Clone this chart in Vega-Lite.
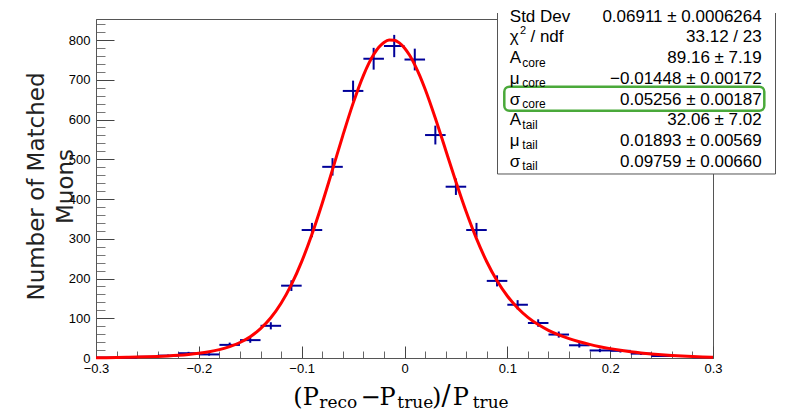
{
  "$schema": "https://vega.github.io/schema/vega-lite/v6.json",
  "width": 617,
  "height": 339,
  "autosize": {"type": "none"},
  "padding": {"left": 96, "top": 19, "right": 74, "bottom": 59},
  "background": "white",
  "config": {
    "view": {"stroke": "#555", "strokeWidth": 1},
    "axis": {"labelFont": "Liberation Sans", "labelFontSize": 13, "labelColor": "black", "grid": false, "domainColor": "#555", "labelFlush": false, "labelOverlap": false}
  },
  "datasets": {
    "bins": [
      {"c": -0.29, "lo": -0.30, "hi": -0.28, "n": 1, "err": 1.0},
      {"c": -0.27, "lo": -0.28, "hi": -0.26, "n": 1, "err": 1.0},
      {"c": -0.25, "lo": -0.26, "hi": -0.24, "n": 3, "err": 1.73},
      {"c": -0.23, "lo": -0.24, "hi": -0.22, "n": 6, "err": 2.45},
      {"c": -0.21, "lo": -0.22, "hi": -0.20, "n": 12, "err": 3.46},
      {"c": -0.19, "lo": -0.20, "hi": -0.18, "n": 9, "err": 3.0},
      {"c": -0.17, "lo": -0.18, "hi": -0.16, "n": 33, "err": 5.74},
      {"c": -0.15, "lo": -0.16, "hi": -0.14, "n": 45, "err": 6.71},
      {"c": -0.13, "lo": -0.14, "hi": -0.12, "n": 81, "err": 9.0},
      {"c": -0.11, "lo": -0.12, "hi": -0.10, "n": 182, "err": 13.49},
      {"c": -0.09, "lo": -0.10, "hi": -0.08, "n": 322, "err": 17.94},
      {"c": -0.07, "lo": -0.08, "hi": -0.06, "n": 481, "err": 21.93},
      {"c": -0.05, "lo": -0.06, "hi": -0.04, "n": 672, "err": 25.92},
      {"c": -0.03, "lo": -0.04, "hi": -0.02, "n": 753, "err": 27.44},
      {"c": -0.01, "lo": -0.02, "hi": 0.0, "n": 785, "err": 28.02},
      {"c": 0.01, "lo": 0.0, "hi": 0.02, "n": 751, "err": 27.4},
      {"c": 0.03, "lo": 0.02, "hi": 0.04, "n": 561, "err": 23.69},
      {"c": 0.05, "lo": 0.04, "hi": 0.06, "n": 431, "err": 20.76},
      {"c": 0.07, "lo": 0.06, "hi": 0.08, "n": 322, "err": 17.94},
      {"c": 0.09, "lo": 0.08, "hi": 0.10, "n": 194, "err": 13.93},
      {"c": 0.11, "lo": 0.10, "hi": 0.12, "n": 134, "err": 11.58},
      {"c": 0.13, "lo": 0.12, "hi": 0.14, "n": 88, "err": 9.38},
      {"c": 0.15, "lo": 0.14, "hi": 0.16, "n": 59, "err": 7.68},
      {"c": 0.17, "lo": 0.16, "hi": 0.18, "n": 32, "err": 5.66},
      {"c": 0.19, "lo": 0.18, "hi": 0.20, "n": 19, "err": 4.36},
      {"c": 0.21, "lo": 0.20, "hi": 0.22, "n": 18, "err": 4.24},
      {"c": 0.23, "lo": 0.22, "hi": 0.24, "n": 11, "err": 3.32},
      {"c": 0.25, "lo": 0.24, "hi": 0.26, "n": 5, "err": 2.24},
      {"c": 0.27, "lo": 0.26, "hi": 0.28, "n": 5, "err": 2.24},
      {"c": 0.29, "lo": 0.28, "hi": 0.30, "n": 2, "err": 1.41}
    ],
    "fit": [
      {"x": -0.30, "f": 0.63}, {"x": -0.29, "f": 0.87}, {"x": -0.28, "f": 1.20}, {"x": -0.27, "f": 1.64},
      {"x": -0.26, "f": 2.22}, {"x": -0.25, "f": 2.97}, {"x": -0.24, "f": 3.95}, {"x": -0.23, "f": 5.22},
      {"x": -0.22, "f": 6.87}, {"x": -0.21, "f": 9.04}, {"x": -0.20, "f": 11.92}, {"x": -0.19, "f": 15.81},
      {"x": -0.18, "f": 21.16}, {"x": -0.17, "f": 28.62}, {"x": -0.16, "f": 39.06}, {"x": -0.15, "f": 53.67},
      {"x": -0.14, "f": 73.89}, {"x": -0.13, "f": 101.35}, {"x": -0.12, "f": 137.78}, {"x": -0.11, "f": 184.55},
      {"x": -0.10, "f": 242.48}, {"x": -0.09, "f": 311.37}, {"x": -0.08, "f": 389.56}, {"x": -0.07, "f": 473.91},
      {"x": -0.06, "f": 559.62}, {"x": -0.05, "f": 640.72}, {"x": -0.04, "f": 710.72}, {"x": -0.03, "f": 763.46},
      {"x": -0.025, "f": 781.76}, {"x": -0.02, "f": 794.07}, {"x": -0.015, "f": 800.1}, {"x": -0.01, "f": 799.72},
      {"x": -0.005, "f": 793.0}, {"x": 0.0, "f": 780.17}, {"x": 0.005, "f": 761.56}, {"x": 0.01, "f": 737.70},
      {"x": 0.015, "f": 709.21}, {"x": 0.02, "f": 676.78}, {"x": 0.03, "f": 603.29}, {"x": 0.04, "f": 523.51},
      {"x": 0.05, "f": 443.45}, {"x": 0.06, "f": 367.92}, {"x": 0.07, "f": 300.26}, {"x": 0.08, "f": 242.25},
      {"x": 0.09, "f": 194.36}, {"x": 0.10, "f": 155.96}, {"x": 0.11, "f": 125.76}, {"x": 0.12, "f": 102.30},
      {"x": 0.13, "f": 84.06}, {"x": 0.14, "f": 69.72}, {"x": 0.15, "f": 58.24}, {"x": 0.16, "f": 48.84},
      {"x": 0.17, "f": 40.98}, {"x": 0.18, "f": 34.29}, {"x": 0.19, "f": 28.54}, {"x": 0.20, "f": 23.60},
      {"x": 0.21, "f": 19.35}, {"x": 0.22, "f": 15.72}, {"x": 0.23, "f": 12.65}, {"x": 0.24, "f": 10.08},
      {"x": 0.25, "f": 7.95}, {"x": 0.26, "f": 6.20}, {"x": 0.27, "f": 4.79}, {"x": 0.28, "f": 3.66},
      {"x": 0.29, "f": 2.77}, {"x": 0.30, "f": 2.07}
    ],
    "stats": [
      {"row": 1, "label": "Std Dev", "value": "0.06911 ± 0.0006264"},
      {"row": 2, "label": "χ", "sup": "2", "rest": "/ ndf", "value": "33.12 / 23"},
      {"row": 3, "label": "A", "sub": "core", "value": "89.16 ± 7.19"},
      {"row": 4, "label": "μ", "sub": "core", "value": "−0.01448 ± 0.00172"},
      {"row": 5, "label": "σ", "sub": "core", "value": "0.05256 ± 0.00187"},
      {"row": 6, "label": "A", "sub": "tail", "value": "32.06 ± 7.02"},
      {"row": 7, "label": "μ", "sub": "tail", "value": "0.01893 ± 0.00569"},
      {"row": 8, "label": "σ", "sub": "tail", "value": "0.09759 ± 0.00660"}
    ],
    "one": [{}]
  },
  "layer": [
    {
      "layer": [
        {
          "data": {"name": "bins"},
          "mark": {"type": "errorbar", "ticks": false, "color": "#000099", "thickness": 2},
          "encoding": {
            "x": {"field": "c", "type": "quantitative", "scale": {"domain": [-0.3, 0.3], "nice": false, "zero": false}, "axis": null},
            "y": {"field": "n", "type": "quantitative", "scale": {"domain": [0, 853], "nice": false}, "axis": null},
            "yError": {"field": "err"}
          }
        },
        {
          "data": {"name": "bins"},
          "mark": {"type": "rule", "color": "#000099", "strokeWidth": 2},
          "encoding": {
            "x": {"field": "lo", "type": "quantitative", "scale": {"domain": [-0.3, 0.3], "nice": false, "zero": false},
                  "axis": {"orient": "bottom", "values": [-0.3,-0.28,-0.26,-0.24,-0.22,-0.2,-0.18,-0.16,-0.14,-0.12,-0.1,-0.08,-0.06,-0.04,-0.02,0,0.02,0.04,0.06,0.08,0.1,0.12,0.14,0.16,0.18,0.2,0.22,0.24,0.26,0.28,0.3], "tickSize": -7, "tickColor": "#666", "labels": false, "domain": false, "title": null}},
            "x2": {"field": "hi"},
            "y": {"field": "n", "type": "quantitative", "scale": {"domain": [0, 853], "nice": false},
                  "axis": {"orient": "left", "values": [0,20,40,60,80,100,120,140,160,180,200,220,240,260,280,300,320,340,360,380,400,420,440,460,480,500,520,540,560,580,600,620,640,660,680,700,720,740,760,780,800,820,840], "tickSize": -9, "tickColor": "#777", "labels": false, "domain": false, "title": null}}
          }
        },
        {
          "data": {"name": "fit"},
          "mark": {"type": "line", "color": "#ff0000", "strokeWidth": 3, "interpolate": "monotone"},
          "encoding": {
            "x": {"field": "x", "type": "quantitative", "scale": {"domain": [-0.3, 0.3], "nice": false, "zero": false},
                  "axis": {"orient": "bottom", "values": [-0.3,-0.2,-0.1,0,0.1,0.2,0.3], "format": "~g", "tickSize": -12, "tickColor": "#444", "labelPadding": 16, "title": null}},
            "y": {"field": "f", "type": "quantitative", "scale": {"domain": [0, 853], "nice": false},
                  "axis": {"orient": "left", "values": [0,100,200,300,400,500,600,700,800], "format": "d", "tickSize": -18, "tickColor": "#444", "labelPadding": 24,
                           "title": ["Number of Matched", "Muons"], "titleFont": "DejaVu Sans", "titleFontSize": 23, "titleFontWeight": "normal", "titleColor": "#222",
                           "titleX": -53, "titleY": 167, "titleAngle": -90, "titleAlign": "center", "titleBaseline": "alphabetic", "titleLineHeight": 29}}
          }
        },
        {"data": {"name": "one"}, "mark": {"type": "text", "font": "DejaVu Serif", "fontSize": 24, "align": "left", "baseline": "alphabetic", "color": "black"},
         "encoding": {"x": {"datum": -0.10814, "type": "quantitative", "axis": null}, "y": {"datum": -118.3, "type": "quantitative", "axis": null}, "text": {"value": "(P"}}},
        {"data": {"name": "one"}, "mark": {"type": "text", "font": "DejaVu Serif", "fontSize": 17, "align": "left", "baseline": "alphabetic", "color": "black"},
         "encoding": {"x": {"datum": -0.08285, "type": "quantitative", "axis": null}, "y": {"datum": -124.6, "type": "quantitative", "axis": null}, "text": {"value": "reco"}}},
        {"data": {"name": "one"}, "mark": {"type": "text", "font": "DejaVu Serif", "fontSize": 24, "align": "left", "baseline": "alphabetic", "color": "black"},
         "encoding": {"x": {"datum": -0.0428, "type": "quantitative", "axis": null}, "y": {"datum": -118.3, "type": "quantitative", "axis": null}, "text": {"value": "−"}}},
        {"data": {"name": "one"}, "mark": {"type": "text", "font": "DejaVu Serif", "fontSize": 24, "align": "left", "baseline": "alphabetic", "color": "black"},
         "encoding": {"x": {"datum": -0.02431, "type": "quantitative", "axis": null}, "y": {"datum": -118.3, "type": "quantitative", "axis": null}, "text": {"value": "P"}}},
        {"data": {"name": "one"}, "mark": {"type": "text", "font": "DejaVu Serif", "fontSize": 17, "align": "left", "baseline": "alphabetic", "color": "black"},
         "encoding": {"x": {"datum": -0.0070, "type": "quantitative", "axis": null}, "y": {"datum": -124.6, "type": "quantitative", "axis": null}, "text": {"value": "true"}}},
        {"data": {"name": "one"}, "mark": {"type": "text", "font": "DejaVu Serif", "fontSize": 24, "align": "left", "baseline": "alphabetic", "color": "black"},
         "encoding": {"x": {"datum": 0.02674, "type": "quantitative", "axis": null}, "y": {"datum": -118.3, "type": "quantitative", "axis": null}, "text": {"value": ")"}}},
        {"data": {"name": "one"}, "mark": {"type": "text", "font": "DejaVu Serif", "fontSize": 27, "align": "left", "baseline": "alphabetic", "color": "black"},
         "encoding": {"x": {"datum": 0.0360, "type": "quantitative", "axis": null}, "y": {"datum": -119.5, "type": "quantitative", "axis": null}, "text": {"value": "/"}}},
        {"data": {"name": "one"}, "mark": {"type": "text", "font": "DejaVu Serif", "fontSize": 24, "align": "left", "baseline": "alphabetic", "color": "black"},
         "encoding": {"x": {"datum": 0.0468, "type": "quantitative", "axis": null}, "y": {"datum": -118.3, "type": "quantitative", "axis": null}, "text": {"value": "P"}}},
        {"data": {"name": "one"}, "mark": {"type": "text", "font": "DejaVu Serif", "fontSize": 17, "align": "left", "baseline": "alphabetic", "color": "black"},
         "encoding": {"x": {"datum": 0.06632, "type": "quantitative", "axis": null}, "y": {"datum": -124.6, "type": "quantitative", "axis": null}, "text": {"value": "true"}}}
      ],
      "resolve": {"axis": {"x": "independent", "y": "independent"}}
    },
    {
      "layer": [
        {"data": {"name": "one"}, "mark": {"type": "rect", "fill": "white", "strokeWidth": 0},
         "encoding": {"x": {"datum": 0.09044, "type": "quantitative", "axis": null}, "x2": {"datum": 0.36078},
                      "y": {"datum": -0.6, "type": "quantitative", "scale": {"domain": [0.8696, 17.246], "reverse": true, "nice": false, "zero": false}, "axis": null}, "y2": {"datum": 8.357}}},
        {"data": {"name": "one"}, "mark": {"type": "rule", "color": "#555", "strokeWidth": 1},
         "encoding": {"x": {"datum": 0.09044, "type": "quantitative", "axis": null},
                      "y": {"datum": 0.58, "type": "quantitative", "axis": null}, "y2": {"datum": 8.357}}},
        {"data": {"name": "one"}, "mark": {"type": "rule", "color": "#555", "strokeWidth": 1},
         "encoding": {"x": {"datum": 0.36078, "type": "quantitative", "axis": null},
                      "y": {"datum": 0.58, "type": "quantitative", "axis": null}, "y2": {"datum": 8.357}}},
        {"data": {"name": "one"}, "mark": {"type": "rule", "color": "#555", "strokeWidth": 1},
         "encoding": {"x": {"datum": 0.09044, "type": "quantitative", "axis": null}, "x2": {"datum": 0.36078},
                      "y": {"datum": 8.357, "type": "quantitative", "axis": null}}},
        {"data": {"name": "one"}, "mark": {"type": "rect", "fill": null, "fillOpacity": 0, "stroke": "#4aa93a", "strokeWidth": 2.5, "cornerRadius": 5},
         "encoding": {"x": {"datum": 0.09705, "type": "quantitative", "axis": null}, "x2": {"datum": 0.34989},
                      "y": {"datum": 4.14, "type": "quantitative", "axis": null}, "y2": {"datum": 5.30}}},
        {"data": {"name": "stats"}, "mark": {"type": "text", "font": "Liberation Sans", "fontSize": 17, "align": "left", "baseline": "alphabetic", "color": "black"},
         "encoding": {"x": {"datum": 0.1024, "type": "quantitative", "axis": null}, "y": {"field": "row", "type": "quantitative", "axis": null}, "text": {"field": "label"}}},
        {"data": {"name": "stats"}, "transform": [{"filter": "isValid(datum.sub)"}],
         "mark": {"type": "text", "font": "Liberation Sans", "fontSize": 12, "align": "left", "baseline": "alphabetic", "color": "black", "dy": 3.5},
         "encoding": {"x": {"datum": 0.11455, "type": "quantitative", "axis": null}, "y": {"field": "row", "type": "quantitative", "axis": null}, "text": {"field": "sub"}}},
        {"data": {"name": "stats"}, "transform": [{"filter": "isValid(datum.sup)"}],
         "mark": {"type": "text", "font": "Liberation Sans", "fontSize": 11, "align": "left", "baseline": "alphabetic", "color": "black", "dy": -8},
         "encoding": {"x": {"datum": 0.1123, "type": "quantitative", "axis": null}, "y": {"field": "row", "type": "quantitative", "axis": null}, "text": {"field": "sup"}}},
        {"data": {"name": "stats"}, "transform": [{"filter": "isValid(datum.rest)"}],
         "mark": {"type": "text", "font": "Liberation Sans", "fontSize": 17, "align": "left", "baseline": "alphabetic", "color": "black"},
         "encoding": {"x": {"datum": 0.1225, "type": "quantitative", "axis": null}, "y": {"field": "row", "type": "quantitative", "axis": null}, "text": {"field": "rest"}}},
        {"data": {"name": "stats"}, "mark": {"type": "text", "font": "Liberation Sans", "fontSize": 17, "align": "right", "baseline": "alphabetic", "color": "black"},
         "encoding": {"x": {"datum": 0.34737, "type": "quantitative", "axis": null}, "y": {"field": "row", "type": "quantitative", "axis": null}, "text": {"field": "value"}}}
      ]
    }
  ],
  "resolve": {"scale": {"y": "independent"}, "axis": {"x": "independent", "y": "independent"}}
}
